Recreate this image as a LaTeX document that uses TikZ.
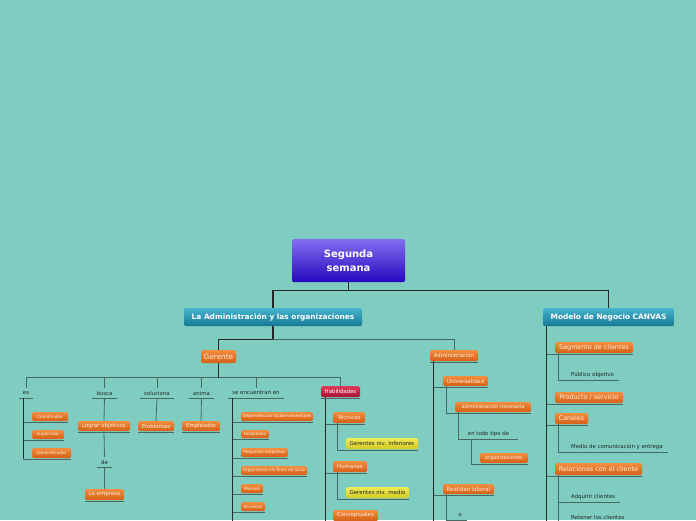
\documentclass[tikz,border=0pt]{standalone}
\usepackage{fontspec}
\setmainfont{DejaVu Sans}
\pgfdeclarelayer{bgfill}
\pgfdeclarelayer{bglines}
\pgfsetlayers{bgfill,bglines,main}
\definecolor{bg}{RGB}{126,205,192}
\definecolor{orT}{RGB}{242,142,64}
\definecolor{orB}{RGB}{212,96,22}
\definecolor{orTx}{RGB}{255,238,222}
\definecolor{yeT}{RGB}{240,234,84}
\definecolor{yeB}{RGB}{212,202,36}
\definecolor{reT}{RGB}{224,58,88}
\definecolor{reB}{RGB}{166,18,52}
\definecolor{teT}{RGB}{72,180,206}
\definecolor{teB}{RGB}{22,120,148}
\definecolor{puT}{RGB}{130,110,240}
\definecolor{puB}{RGB}{40,8,190}
\definecolor{dk}{RGB}{34,40,40}
\definecolor{lineDk}{RGB}{38,40,40}
\definecolor{lineGr}{RGB}{72,104,99}
\tikzset{
  every node/.style={inner sep=0pt},
  bx/.style={rounded corners=1.5pt, align=center, draw=none},
  ob/.style={bx, top color=orT, bottom color=orB, text=orTx},
  yb/.style={bx, top color=yeT, bottom color=yeB, text=dk},
  rb/.style={bx, top color=reT, bottom color=reB, text=white},
  tb/.style={bx, top color=teT, bottom color=teB, text=white, font=\bfseries\fontsize{7.4}{8}\selectfont},
  pb/.style={bx, top color=puT, bottom color=puB, text=white, font=\bfseries\fontsize{10}{14}\selectfont},
  fbig/.style={font=\fontsize{6.4}{7}\selectfont},
  fmid/.style={font=\fontsize{5.4}{6}\selectfont},
  fsml/.style={font=\fontsize{4.2}{5}\selectfont},
  lbl/.style={minimum height=10, text=dk, font=\fontsize{5.4}{6}\selectfont},
  tlbl/.style={minimum height=10, text=dk, font=\fontsize{5.4}{6}\selectfont, anchor=west},
  main/.style={draw=lineDk, line width=1.1pt},
  trunk/.style={draw=lineDk, line width=0.8pt},
  ul/.style={draw=lineGr, line width=0.8pt},
}
\begin{document}
\begin{tikzpicture}[x=1pt,y=-1pt]
\begin{pgfonlayer}{bgfill}
\fill[bg] (0,0) rectangle (696,520);
\end{pgfonlayer}
\useasboundingbox (0,0) rectangle (696,520);
\clip (0,0) rectangle (696,520);

% root and level 1
\node[pb, minimum width=113, minimum height=43] (root) at (348.5,260.5) {Segunda\\semana};
\node[tb, minimum width=178, minimum height=18] (lao) at (273,317) {La Administración y las organizaciones};
\node[tb, minimum width=131, minimum height=18] (canvas) at (608.5,317) {Modelo de Negocio CANVAS};

% level 2
\node[ob, font=\fontsize{7.2}{8}\selectfont, minimum width=35, minimum height=13] (ger) at (218.5,356.5) {Gerente};
\node[ob, fmid, minimum width=48, minimum height=11] (admn) at (454,355.5) {Administración};

% Gerente labels
\node[lbl, minimum width=14] (es) at (26,393) {es};
\node[lbl, minimum width=25] (busca) at (104.5,393) {busca};
\node[lbl, minimum width=34] (sol) at (157,393) {soluciona};
\node[lbl, minimum width=25] (anima) at (201.5,393) {anima};
\node[lbl, minimum width=56] (seen) at (256,393) {se encuentran en};
\node[rb, fmid, minimum width=39, minimum height=11] (hab) at (340.5,391.5) {Habilidades};

% es
\node[ob, fsml, minimum width=36, minimum height=9] (coord) at (50,416.5) {Coordinador};
\node[ob, fsml, minimum width=32, minimum height=9] (sup) at (48,434.5) {Supervisor};
\node[ob, fsml, minimum width=39, minimum height=10] (admr) at (51.5,453) {Administrador};

% busca / soluciona / anima
\node[ob, fmid, minimum width=52, minimum height=10] (lograr) at (104,426) {Lograr objetivos};
\node[lbl, minimum width=15] (de) at (104.5,462) {de};
\node[ob, fmid, minimum width=39, minimum height=11] (emp) at (104.5,494.5) {La empresa};
\node[ob, fmid, minimum width=36, minimum height=10] (prob) at (156,426) {Problemas};
\node[ob, fmid, minimum width=38, minimum height=10] (empl) at (201,426) {Empleados};

% se encuentran en
\node[ob, fsml, minimum width=72, minimum height=9] (dep) at (277,416.5) {Dependencias Gubernamentales};
\node[ob, fsml, minimum width=28, minimum height=8] (hosp) at (255,434) {Hospitales};
\node[ob, fsml, minimum width=47, minimum height=9] (peq) at (264.5,452.5) {Pequeñas empresas};
\node[ob, fsml, minimum width=66, minimum height=9] (org) at (274,470.5) {Organismos sin fines de lucro};
\node[ob, fsml, minimum width=22, minimum height=9] (mus) at (252,488.5) {Museos};
\node[ob, fsml, minimum width=24, minimum height=9] (esc) at (253,506.5) {Escuelas};

% Habilidades
\node[ob, fmid, minimum width=32, minimum height=11] (tec) at (349,417.5) {Técnicas};
\node[yb, font=\fontsize{5.5}{6}\selectfont, minimum width=72, minimum height=11] (gni) at (382,443.5) {Gerentes niv. inferiores};
\node[ob, fmid, minimum width=34, minimum height=11] (hum) at (350,466.5) {Humanas};
\node[yb, font=\fontsize{5.5}{6}\selectfont, minimum width=63, minimum height=11] (gnm) at (377.5,492.5) {Gerentes niv. medio};
\node[ob, fmid, minimum width=45, minimum height=11] (con) at (355.5,515.5) {Conceptuales};

% Administracion
\node[ob, fmid, minimum width=45, minimum height=10] (univ) at (465.5,381) {Universalidad};
\node[ob, font=\fontsize{5}{6}\selectfont, minimum width=76, minimum height=10] (anec) at (493,407) {administración necesaria};
\node[lbl, minimum width=59] (ent) at (488.5,434) {en todo tipo de};
\node[ob, font=\fontsize{5}{6}\selectfont, minimum width=48, minimum height=10] (orgz) at (504,458) {organizaciones};
\node[ob, fmid, minimum width=51, minimum height=10] (real) at (468.5,489) {Realidad laboral};
\node[lbl, minimum width=14] (o) at (460,515) {o};

% CANVAS
\node[ob, fbig, minimum width=78, minimum height=11] (seg) at (594,347.5) {Segmento de clientes};
\node[tlbl] (pub) at (571,375) {Público objetivo};
\node[ob, fbig, minimum width=68, minimum height=11] (prod) at (589,397.5) {Producto / servicio};
\node[ob, fbig, minimum width=33, minimum height=11] (can) at (571.5,418.5) {Canales};
\node[tlbl] (medio) at (571,447) {Medio de comunicación y entrega};
\node[ob, fbig, minimum width=87, minimum height=12] (rel) at (598.5,469) {Relaciones con el cliente};
\node[tlbl] (adq) at (571,497) {Adquirir clientes};
\node[tlbl] (ret) at (571,517) {Retener los clientes};

\coordinate (bot) at (0,530);

\begin{pgfonlayer}{bglines}
% root to level 1
\draw[main] (root.south) -- ++(0,8.5) -| (lao.north);
\draw[main] (root.south) -- ++(0,8.5) -| (canvas.north);
% lao to level 2
\draw[main] (lao.south) -- ++(0,13) -| (ger.north);
\draw[ul] (lao.south) ++(0,13) -| (admn.north);
\draw[main] (lao.south) -- ++(0,13);
% Gerente to labels
\foreach \n in {es,busca,sol,anima,seen,hab}
  \draw[ul] (ger.south) ++(0,14.5) -| (\n.north);
\draw[trunk] (ger.south) -- ++(0,14.5);
\foreach \n in {es,busca,sol,anima,seen,de,ent,o}
  \draw[ul] (\n.south west) -- (\n.south east);
% es
\foreach \n in {coord,sup,admr}
  \draw[ul] ([xshift=-3pt]es.south) |- ([yshift=-1pt]\n.south east);
\draw[trunk] ([xshift=-3pt]es.south) -- ([xshift=-3pt]es.south |- admr.south);
% busca chain
\draw[ul] (busca.south) -- (lograr.north);
\draw[ul] (lograr.south) -- (de.north);
\draw[ul] (de.south) -- (emp.north);
\draw[ul] ([yshift=-1pt]lograr.south west) -- ([yshift=-1pt]lograr.south east);
\draw[ul] ([yshift=-1pt]emp.south west) -- ([yshift=-1pt]emp.south east);
\draw[ul] (sol.south) -- (prob.north);
\draw[ul] ([yshift=-1pt]prob.south west) -- ([yshift=-1pt]prob.south east);
\draw[ul] (anima.south) -- (empl.north);
\draw[ul] ([yshift=-1pt]empl.south west) -- ([yshift=-1pt]empl.south east);
% se encuentran en
\foreach \n in {dep,hosp,peq,org,mus,esc}
  \draw[ul] ([xshift=5pt]seen.south west) |- ([yshift=-1pt]\n.south east);
\draw[trunk] ([xshift=5pt]seen.south west) -- ([xshift=5pt]seen.south west |- bot);
% Habilidades
\foreach \n in {tec,hum,con}
  \draw[ul] ([xshift=5pt]hab.south west) |- ([yshift=-1pt]\n.south east);
\draw[trunk] ([xshift=5pt]hab.south west) -- ([xshift=5pt]hab.south west |- bot);
\draw[ul] ([yshift=-1pt]hab.south west) -- ([yshift=-1pt]hab.south east);
\draw[ul] ([xshift=5pt]tec.south west) |- ([yshift=-1pt]gni.south east);
\draw[ul] ([xshift=5pt]hum.south west) |- ([yshift=-1pt]gnm.south east);
% Administracion
\draw[ul] ([yshift=-1pt]admn.south west) -- ([yshift=-1pt]admn.south east);
\foreach \n in {univ,real}
  \draw[ul] ([xshift=4pt]admn.south west) |- ([yshift=-1pt]\n.south east);
\draw[trunk] ([xshift=4pt]admn.south west) -- ([xshift=4pt]admn.south west |- bot);
\draw[ul] ([xshift=4pt]univ.south west) |- ([yshift=-1pt]anec.south east);
\draw[ul] ([xshift=4pt]anec.south west) |- (ent.south east);
\draw[ul] ([xshift=13pt]ent.south west) |- ([yshift=-1pt]orgz.south east);
\draw[ul] ([xshift=4pt]real.south west) |- (o.south east);
\draw[ul] ([xshift=4pt]real.south west) -- ([xshift=4pt]real.south west |- bot);
% CANVAS
\foreach \n in {seg,prod,can,rel}
  \draw[ul] ([xshift=4pt]canvas.south west) |- ([yshift=-1pt]\n.south east);
\draw[trunk] ([xshift=4pt]canvas.south west) -- ([xshift=4pt]canvas.south west |- bot);
\draw[ul] ([xshift=4pt]seg.south west) |- ([xshift=5pt]pub.south east);
\draw[ul] ([xshift=4pt]can.south west) |- ([xshift=5pt]medio.south east);
\foreach \n in {adq,ret}
  \draw[ul] ([xshift=4pt]rel.south west) |- ([xshift=5pt]\n.south east);
\draw[ul] ([xshift=4pt]rel.south west) -- ([xshift=4pt]rel.south west |- bot);
\end{pgfonlayer}
\end{tikzpicture}
\end{document}
